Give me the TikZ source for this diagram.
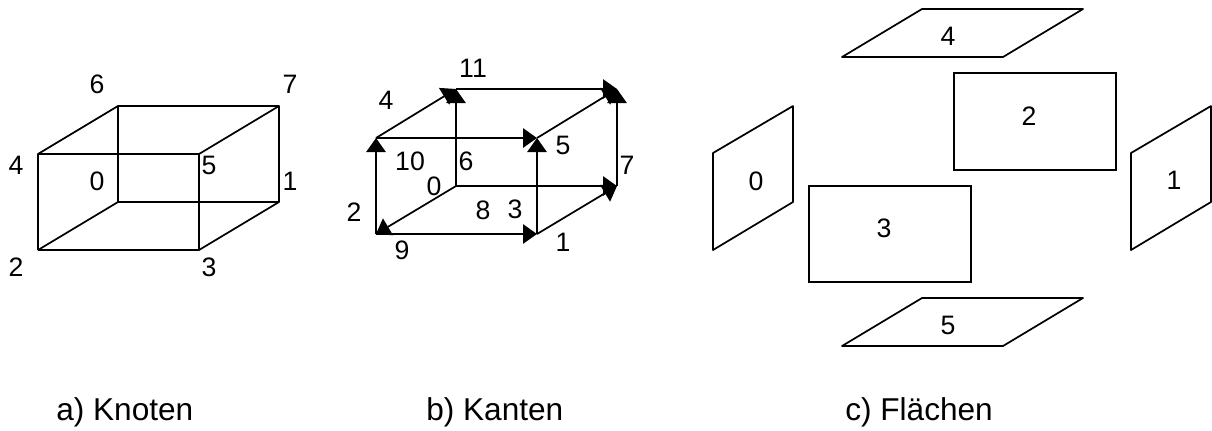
\documentclass[tikz,border=0pt]{standalone}
\usepackage{fontspec}
\setmainfont{Liberation Sans}
\usetikzlibrary{arrows.meta}
\begin{document}
\begin{tikzpicture}[x=0.75pt,y=-0.75pt,
  linie/.style={line width=1.3pt,line join=round},
  kante/.style={line width=1.3pt,-{Triangle[length=10.5pt,width=14.5pt]}},
  flaeche/.style={draw,line width=1.3pt,inner sep=0pt,minimum width=121.5pt,minimum height=72.5pt},
  zahl/.style={inner sep=0pt,font=\fontsize{20}{20}\selectfont},
  titel/.style={inner sep=0pt,anchor=base west,font=\fontsize{23.7}{24}\selectfont}]
\useasboundingbox (0,0) rectangle (1212,430);
% a) Knoten
\coordinate (a0) at (118,202);
\coordinate (a1) at (279,202);
\coordinate (a2) at (38,250);
\coordinate (a3) at (199,250);
\coordinate (a4) at (38,154);
\coordinate (a5) at (199,154);
\coordinate (a6) at (118,106);
\coordinate (a7) at (279,106);
\draw[linie] (a2) -- (a3) -- (a1) -- (a7) -- (a6) -- (a4) -- (a2);
\draw[linie] (a4) -- (a5) -- (a3);
\draw[linie] (a5) -- (a7);
\draw[linie] (a6) -- (a0) -- (a1);
\draw[linie] (a0) -- (a2);
\node[zahl] (la6) at (97,84) {6};
\node[zahl] (la7) at (290,84) {7};
\node[zahl] (la4) at (16,165) {4};
\node[zahl] (la5) at (209,165) {5};
\node[zahl] (la0) at (97,181) {0};
\node[zahl] (la1) at (290,181) {1};
\node[zahl] (la2) at (16,267) {2};
\node[zahl] (la3) at (209,267) {3};
% b) Kanten
\coordinate (b0) at (456,186);
\coordinate (b1) at (617,186);
\coordinate (b2) at (376,234);
\coordinate (b3) at (537,234);
\coordinate (b4) at (376,138);
\coordinate (b5) at (537,138);
\coordinate (b6) at (456,89);
\coordinate (b7) at (617,89);
\draw[kante] (b0) -- (b2);
\draw[kante] (b3) -- (b1);
\draw[kante] (b4) -- (b6);
\draw[kante] (b5) -- (b7);
\draw[kante] (b0) -- (b1);
\draw[kante] (b2) -- (b3);
\draw[kante] (b4) -- (b5);
\draw[kante] (b6) -- (b7);
\draw[kante] (b2) -- (b4);
\draw[kante] (b3) -- (b5);
\draw[kante] (b0) -- (b6);
\draw[kante] (b1) -- (b7);
\node[zahl] (lb11) at (473,68) {11};
\node[zahl] (lb4) at (386,100) {4};
\node[zahl] (lb5) at (563,145) {5};
\node[zahl] (lb10) at (410,161) {10};
\node[zahl] (lb6) at (466,161) {6};
\node[zahl] (lb7) at (627,165) {7};
\node[zahl] (lb0) at (434,186) {0};
\node[zahl] (lb2) at (354,212) {2};
\node[zahl] (lb8) at (483,210) {8};
\node[zahl] (lb3) at (515,209) {3};
\node[zahl] (lb9) at (402,250) {9};
\node[zahl] (lb1) at (563,242) {1};
% c) Flaechen
\coordinate (f0a) at (713,153);
\coordinate (f0b) at (793,106);
\coordinate (f0c) at (793,202);
\coordinate (f0d) at (713,250);
\coordinate (f1a) at (1131,153);
\coordinate (f1b) at (1211,106);
\coordinate (f1c) at (1211,202);
\coordinate (f1d) at (1131,250);
\coordinate (f4a) at (842,57);
\coordinate (f4b) at (922,9);
\coordinate (f4c) at (1083,9);
\coordinate (f4d) at (1003,57);
\coordinate (f5a) at (842,346);
\coordinate (f5b) at (922,298);
\coordinate (f5c) at (1083,298);
\coordinate (f5d) at (1003,346);
\draw[linie] (f0a) -- (f0b) -- (f0c) -- (f0d) -- cycle;
\draw[linie] (f1a) -- (f1b) -- (f1c) -- (f1d) -- cycle;
\draw[linie] (f4a) -- (f4b) -- (f4c) -- (f4d) -- cycle;
\draw[linie] (f5a) -- (f5b) -- (f5c) -- (f5d) -- cycle;
\node[flaeche] (f2) at (1035,121.5) {};
\node[flaeche] (f3) at (890,234) {};
\node[zahl] (lf0) at (756,181) {0};
\node[zahl] (lf1) at (1174,180) {1};
\node[zahl] (lf2) at (1029,116) {2};
\node[zahl] (lf3) at (884,228) {3};
\node[zahl] (lf4) at (948,36) {4};
\node[zahl] (lf5) at (948,325) {5};
% Titel
\node[titel] (ta) at (56,420) {a) Knoten};
\node[titel] (tb) at (426,420) {b) Kanten};
\node[titel] (tc) at (845,420) {c) Flächen};
\end{tikzpicture}
\end{document}
